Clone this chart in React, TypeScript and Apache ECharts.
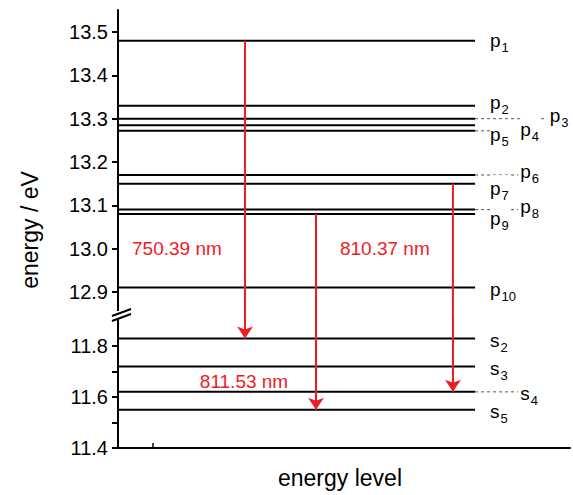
import React, { useEffect, useRef } from "react";
import * as echarts from "echarts";

const upperNames = ["1", "2", "3", "4", "5", "6", "7", "8", "9", "10"];
const upperLevels = [13.48, 13.33, 13.3, 13.285, 13.272, 13.17, 13.15, 13.09, 13.08, 12.91];
const upperLabelX = [0.823, 0.823, 0.955, 0.89, 0.823, 0.89, 0.823, 0.89, 0.823, 0.823];
const upperLabelDy = [0, -3, -3, 4, 4, -3, 5, -3, 5, 2];
const lowerNames = ["2", "3", "4", "5"];
const lowerLevels = [11.83, 11.72, 11.62, 11.55];
const lowerLabelX = [0.823, 0.823, 0.89, 0.823];
const lowerLabelDy = [2, 2, 2, 2];
const upperTicks = [12.9, 13.0, 13.1, 13.2, 13.3, 13.4, 13.5];
const lowerTicks = [11.4, 11.6, 11.8];
const arrowX = [0.281, 0.438, 0.741];
const arrowFrom = [13.48, 13.08, 13.15];
const arrowTo = [11.83, 11.55, 11.62];
const arrowText = ["750.39 nm", "811.53 nm", "810.37 nm"];
const arrowTextPos: [number, number, number][] = [[0.031, 13.0, 0], [0.181, 11.66, 1], [0.491, 13.0, 0]];

const UMIN = 12.842, UMAX = 13.551, LMIN = 11.4, LMAX = 11.915;
const LINE_END = 0.79;

export default function App() {
  const ref = useRef<HTMLDivElement>(null);
  useEffect(() => {
    const chart = echarts.init(ref.current!, undefined, { renderer: "svg" });
    const font = "Liberation Sans";
    const series: any[] = [];
    const rich = {
      p: { fontSize: 19, fontFamily: font, color: "#000", opacity: 1 },
      s: { fontSize: 13, fontFamily: font, color: "#000", opacity: 1, padding: [14, 0, 0, 1] },
    };
    const addLevels = (levels: number[], idx: number) => {
      levels.forEach((v) => {
        series.push({
          type: "line", xAxisIndex: idx, yAxisIndex: idx, symbol: "none",
          lineStyle: { color: "#000", width: 2 }, data: [[0, v], [LINE_END, v]], z: 2,
        });
      });
    };
    addLevels(upperLevels, 0);
    addLevels(lowerLevels, 1);
    const dashed = (idx: number, v: number, x2: number) => series.push({
      type: "line", xAxisIndex: idx, yAxisIndex: idx, symbol: "none",
      lineStyle: { color: "#555", width: 1, type: [3, 3] }, data: [[LINE_END, v], [x2, v]], z: 1,
    });
    dashed(0, upperLevels[2], 0.95);
    dashed(0, upperLevels[4], 0.86);
    dashed(0, upperLevels[5], 0.885);
    dashed(0, upperLevels[7], 0.885);
    dashed(1, lowerLevels[2], 0.885);
    const labels = (idx: number, letter: string, names: string[], levels: number[], xs: number[], dys: number[]) => {
      names.forEach((n, i) => {
        series.push({
          type: "scatter", xAxisIndex: idx, yAxisIndex: idx, symbolSize: 0, itemStyle: { color: "#fff" },
          data: [[xs[i], levels[i]]], z: 5, silent: true,
          label: {
            show: true, position: "right", distance: 0, offset: [0, dys[i]], opacity: 1,
            formatter: `{p|${letter}}{s|${n}}`, rich, backgroundColor: "#fff",
          },
        });
      });
    };
    labels(0, "p", upperNames, upperLevels, upperLabelX, upperLabelDy);
    labels(1, "s", lowerNames, lowerLevels, lowerLabelX, lowerLabelDy);
    arrowX.forEach((x, i) => {
      series.push({
        type: "line", xAxisIndex: 0, yAxisIndex: 0, symbol: "none",
        lineStyle: { color: "#ee1c25", width: 2 }, data: [[x, arrowFrom[i]], [x, UMIN]], z: 4,
      });
      series.push({
        type: "lines", coordinateSystem: "cartesian2d", xAxisIndex: 1, yAxisIndex: 1,
        symbol: ["none", "arrow"], symbolSize: 12,
        lineStyle: { color: "#ee1c25", width: 2, opacity: 1 }, z: 4,
        data: [{ coords: [[x, LMAX], [x, arrowTo[i]]] }],
      });
    });
    arrowTextPos.forEach((p, i) => {
      series.push({
        type: "scatter", xAxisIndex: p[2], yAxisIndex: p[2], symbolSize: 0, itemStyle: { color: "#fff" },
        data: [[p[0], p[1]]], z: 6, silent: true,
        label: { show: true, position: "right", distance: 0, opacity: 1, formatter: arrowText[i], color: "#ee1c25", fontSize: 19, fontFamily: font },
      });
    });
    const yLabel = { color: "#000", fontSize: 20, fontFamily: font, margin: 10 };
    chart.setOption({
      animation: false,
      grid: [
        { left: 118, right: 3, top: 10, height: 307 },
        { left: 118, right: 3, top: 317, height: 130.7 },
      ],
      xAxis: [
        { gridIndex: 0, type: "value", min: 0, max: 1, show: false },
        {
          gridIndex: 1, type: "value", min: 0, max: 1, axisLabel: { show: false }, axisTick: { show: false },
          splitLine: { show: false }, axisLine: { lineStyle: { color: "#000", width: 2 } },
        },
      ],
      yAxis: [
        {
          gridIndex: 0, type: "value", min: UMIN, max: UMAX, splitLine: { show: false },
          axisLine: { show: true, lineStyle: { color: "#000", width: 2 } },
          axisTick: { show: true, length: 6, lineStyle: { width: 2 }, customValues: upperTicks },
          axisLabel: { ...yLabel, customValues: upperTicks, formatter: (v: number) => v.toFixed(1) },
        },
        {
          gridIndex: 1, type: "value", min: LMIN, max: LMAX, splitLine: { show: false },
          axisLine: { show: true, lineStyle: { color: "#000", width: 2 } },
          axisTick: { show: true, length: 6, lineStyle: { width: 2 }, customValues: [11.4, 11.5, 11.6, 11.7, 11.8] },
          axisLabel: { ...yLabel, customValues: lowerTicks, formatter: (v: number) => v.toFixed(1) },
        },
      ],
      graphic: [
        { type: "rect", shape: { x: 110, y: 311, width: 16, height: 8 }, style: { fill: "#fff" }, z: 100 },
        { type: "line", shape: { x1: 112, y1: 316, x2: 131, y2: 309 }, style: { stroke: "#000", lineWidth: 2 }, z: 101 },
        { type: "line", shape: { x1: 112, y1: 321, x2: 131, y2: 314 }, style: { stroke: "#000", lineWidth: 2 }, z: 101 },
        { type: "line", shape: { x1: 153, y1: 447, x2: 153, y2: 443 }, style: { stroke: "#000", lineWidth: 1.5 } },
        {
          type: "text", x: 30, y: 230, rotation: Math.PI / 2,
          style: { text: "energy / eV", fontSize: 23, fontFamily: font, fill: "#000", align: "center", verticalAlign: "middle" },
        },
        {
          type: "text", x: 340, y: 478,
          style: { text: "energy level", fontSize: 23, fontFamily: font, fill: "#000", align: "center", verticalAlign: "middle" },
        },
      ],
      series,
    });
    return () => chart.dispose();
  }, []);
  return <div ref={ref} style={{ position: "absolute", left: 0, top: 0, width: 573, height: 495 }} />;
}
